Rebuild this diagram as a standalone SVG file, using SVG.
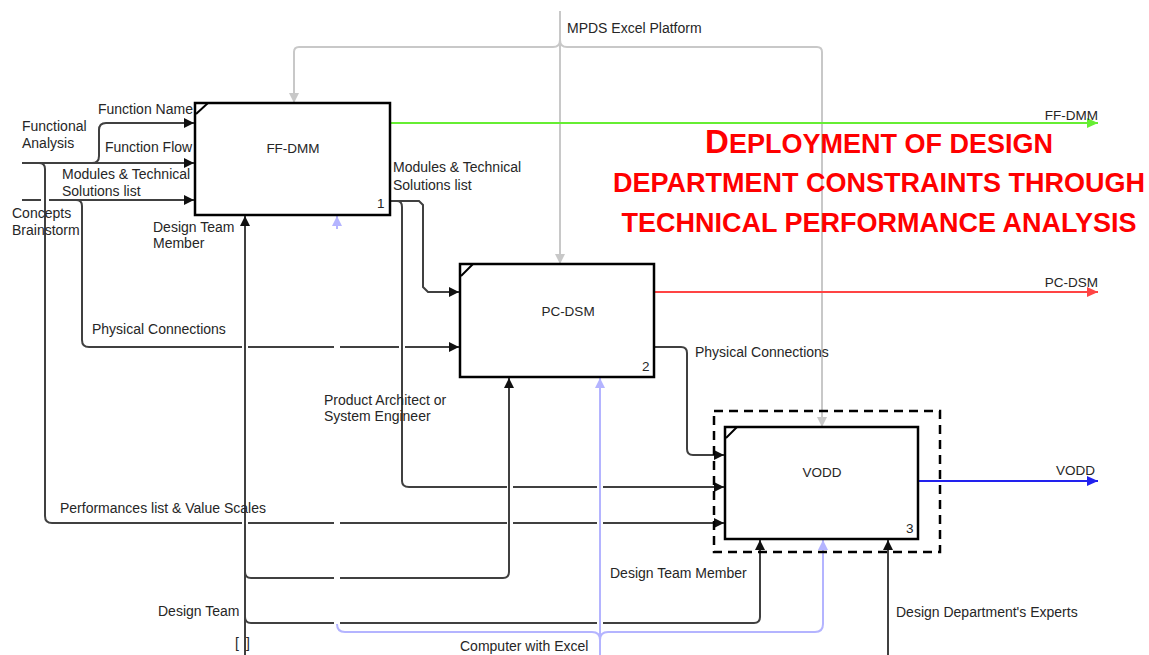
<svg xmlns="http://www.w3.org/2000/svg" width="1149" height="655" viewBox="0 0 1149 655">
<style>
  .box { fill: #fff; stroke: #000; stroke-width: 2.5; }
  .tick { stroke: #000; stroke-width: 2; }
  .ln { fill: none; stroke: #404040; stroke-width: 2; }
  .ctl { fill: none; stroke: #c8c8c8; stroke-width: 2; }
  .mech { fill: none; stroke: #b4b4ff; stroke-width: 2; }
  .lbl { font-family: "Liberation Sans", Arial, sans-serif; font-size: 14px; fill: #262626; }
  .blbl { font-family: "Liberation Sans", Arial, sans-serif; font-size: 13.5px; fill: #262626; }
  .title { font-family: "Liberation Sans", Arial, sans-serif; font-weight: bold; font-size: 27px; fill: #ff0000; }
</style>
<defs>
  <marker id="aBlk" markerUnits="userSpaceOnUse" markerWidth="11" markerHeight="10" refX="10" refY="5" orient="auto"><path d="M0,0 L10,5 L0,10 z" fill="#101010"/></marker>
  <marker id="aGry" markerUnits="userSpaceOnUse" markerWidth="11" markerHeight="10" refX="10" refY="5" orient="auto"><path d="M0,0 L10,5 L0,10 z" fill="#c8c8c8"/></marker>
  <marker id="aLav" markerUnits="userSpaceOnUse" markerWidth="11" markerHeight="10" refX="10" refY="5" orient="auto"><path d="M0,0 L10,5 L0,10 z" fill="#b4b4ff"/></marker>
  <marker id="aGrn" markerUnits="userSpaceOnUse" markerWidth="12" markerHeight="10" refX="11" refY="5" orient="auto"><path d="M0,0 L11,5 L0,10 z" fill="#66ee33"/></marker>
  <marker id="aRed" markerUnits="userSpaceOnUse" markerWidth="12" markerHeight="10" refX="11" refY="5" orient="auto"><path d="M0,0 L11,5 L0,10 z" fill="#ff4444"/></marker>
  <marker id="aBlu" markerUnits="userSpaceOnUse" markerWidth="12" markerHeight="10" refX="11" refY="5" orient="auto"><path d="M0,0 L11,5 L0,10 z" fill="#2222ee"/></marker>
</defs>
<rect width="1149" height="655" fill="#fff"/>

<g id="connectors">
  <!-- controls (grey) -->
  <path class="ctl" d="M560,11 V264" marker-end="url(#aGry)"/>
  <path class="ctl" d="M560,40 Q560,47 553,47 H299 Q294,47 294,52 V103" marker-end="url(#aGry)"/>
  <path class="ctl" d="M560,40 Q560,47 567,47 H817 Q822,47 822,52 V427" marker-end="url(#aGry)"/>

  <!-- outputs -->
  <path fill="none" stroke="#66ee33" stroke-width="2" d="M390,123 H1098" marker-end="url(#aGrn)"/>
  <path fill="none" stroke="#ff4444" stroke-width="2" d="M654,292 H1098" marker-end="url(#aRed)"/>
  <path fill="none" stroke="#2222ee" stroke-width="2" d="M918,481 H1098" marker-end="url(#aBlu)"/>

  <!-- Functional analysis inputs -->
  <path class="ln" d="M22,163 H194" marker-end="url(#aBlk)"/>
  <path class="ln" d="M92,163 Q99,163 99,156 V130 Q99,123 106,123 H194" marker-end="url(#aBlk)"/>
  <path class="ln" d="M39,163 Q45,163 45,169 V516 Q45,523 52,523 H242"/>
  <path class="ln" d="M248,523 H334 M340,523 H507 M513,523 H597"/>
  <path class="ln" d="M603,523 H724" marker-end="url(#aBlk)"/>

  <!-- Concepts brainstorm input -->
  <path class="ln" d="M22,200 H41"/>
  <path class="ln" d="M49,200 H194" marker-end="url(#aBlk)"/>
  <path class="ln" d="M76,200 Q82,200 82,206 V340 Q82,347 89,347 H242"/>
  <path class="ln" d="M248,347 H334 M340,347 H399"/>
  <path class="ln" d="M405,347 H459" marker-end="url(#aBlk)"/>

  <!-- FF-DMM output: modules & technical solutions list -->
  <path class="ln" d="M390,201 H419 L423,205 V287 L428,292 H459" marker-end="url(#aBlk)"/>
  <path class="ln" d="M397,201 Q402,201 402,207 V481 Q402,487 409,487 H507"/>
  <path class="ln" d="M513,487 H597"/>
  <path class="ln" d="M603,487 H724" marker-end="url(#aBlk)"/>

  <!-- PC-DSM -> VODD physical connections -->
  <path class="ln" d="M654,347 H681 Q687,347 687,353 V449 Q687,455 693,455 H724" marker-end="url(#aBlk)"/>

  <!-- Design team mechanism -->
  <path class="ln" d="M245,655 V216" marker-end="url(#aBlk)"/>
  <path class="ln" d="M245,572 Q245,578 251,578 H334"/>
  <path class="ln" d="M340,578 H503 Q509,578 509,572 V378" marker-end="url(#aBlk)"/>
  <path class="ln" d="M245,617 Q245,623 251,623 H334 M340,623 H597"/>
  <path class="ln" d="M603,623 H754 Q760,623 760,617 V540" marker-end="url(#aBlk)"/>

  <!-- Design department experts -->
  <path class="ln" d="M888,655 V540" marker-end="url(#aBlk)"/>

  <!-- Computer with Excel (lavender) -->
  <path class="mech" d="M600,655 V378" marker-end="url(#aLav)"/>
  <path class="mech" d="M337,624 Q337,632 345,632 H592 Q600,632 600,640"/>
  <path class="mech" d="M600,640 Q600,632 608,632 H815 Q823,632 823,624 V540" marker-end="url(#aLav)"/>
  <path class="mech" d="M337,229 V216" marker-end="url(#aLav)"/>
</g>

<g id="node-ffdmm">
  <rect class="box" x="195" y="103" width="195" height="112"/>
  <line class="tick" x1="208" y1="103" x2="196" y2="114"/>
  <text class="blbl" x="293" y="153" text-anchor="middle">FF-DMM</text>
  <text class="blbl" x="377" y="208">1</text>
</g>

<g id="node-pcdsm">
  <rect class="box" x="460" y="264" width="194" height="113"/>
  <line class="tick" x1="473" y1="264" x2="461" y2="276"/>
  <text class="blbl" x="568" y="316" text-anchor="middle">PC-DSM</text>
  <text class="blbl" x="642" y="371">2</text>
</g>

<g id="node-vodd">
  <rect x="714" y="411" width="226" height="141" fill="none" stroke="#000" stroke-width="2.5" stroke-dasharray="9,6"/>
  <rect class="box" x="725" y="427" width="193" height="112"/>
  <line class="tick" x1="737" y1="427" x2="726" y2="438"/>
  <text class="blbl" x="822" y="477" text-anchor="middle">VODD</text>
  <text class="blbl" x="906" y="533">3</text>
</g>

<g id="labels">
  <text class="lbl" x="98" y="114">Function Name</text>
  <text class="lbl" x="22" y="131">Functional</text>
  <text class="lbl" x="22" y="148" font-size="12.5">Analysis</text>
  <text class="lbl" x="105" y="152">Function Flow</text>
  <text class="lbl" x="62" y="179">Modules &amp; Technical</text>
  <text class="lbl" x="62" y="196">Solutions list</text>
  <text class="lbl" x="12" y="218">Concepts</text>
  <text class="lbl" x="12" y="235">Brainstorm</text>
  <text class="lbl" x="153" y="232">Design Team</text>
  <text class="lbl" x="153" y="248">Member</text>
  <text class="lbl" x="393" y="172">Modules &amp; Technical</text>
  <text class="lbl" x="393" y="190">Solutions list</text>
  <text class="lbl" x="92" y="334">Physical Connections</text>
  <text class="lbl" x="695" y="357">Physical Connections</text>
  <text class="lbl" x="324" y="405">Product Architect or</text>
  <text class="lbl" x="324" y="421">System Engineer</text>
  <text class="lbl" x="60" y="513">Performances list &amp; Value Scales</text>
  <text class="lbl" x="610" y="578">Design Team Member</text>
  <text class="lbl" x="158" y="616">Design Team</text>
  <text class="lbl" x="896" y="617">Design Department's Experts</text>
  <text class="lbl" x="235" y="648" font-size="19">[<tspan dx="7">]</tspan></text>
  <text class="lbl" x="460" y="651" fill="#b4b4ff">Computer with Excel</text>
  <text class="lbl" x="567" y="33" fill="#c4c4c4">MPDS Excel Platform</text>
  <text class="blbl" x="1098" y="120" text-anchor="end" fill="#77ee33">FF-DMM</text>
  <text class="blbl" x="1098" y="287" text-anchor="end" fill="#ff5555">PC-DSM</text>
  <text class="blbl" x="1095" y="475" text-anchor="end" fill="#5555ff">VODD</text>
</g>

<g id="title">
  <text class="title" x="879" y="153" text-anchor="middle" font-size="26.5"><tspan font-size="33">D</tspan>EPLOYMENT OF DESIGN</text>
  <text class="title" x="879" y="192" text-anchor="middle">DEPARTMENT CONSTRAINTS THROUGH</text>
  <text class="title" x="879" y="232" text-anchor="middle">TECHNICAL PERFORMANCE ANALYSIS</text>
</g>
</svg>
